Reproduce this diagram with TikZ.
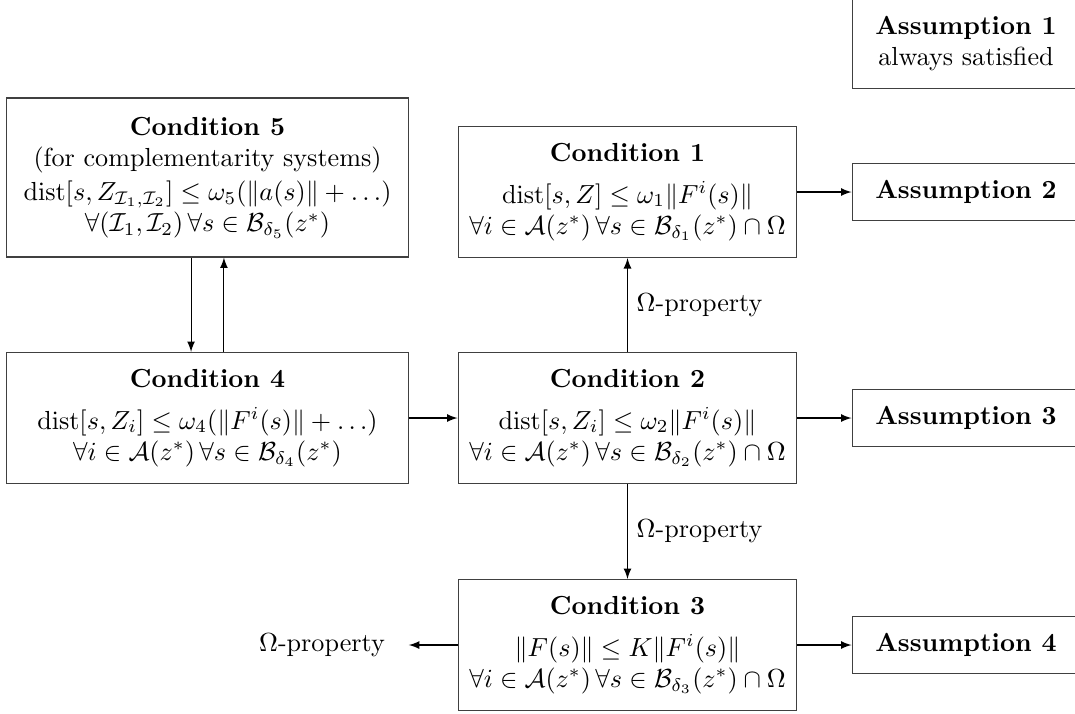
\documentclass[tikz,border=0pt]{standalone}
\usepackage{amsmath, amsfonts, amssymb}
\usepackage{tikz}

\tikzset{
  cond/.style={draw=black!75, align=center, minimum width=129.8pt, minimum height=50.2pt, inner sep=0pt},
  widecond/.style={cond, minimum width=153.6pt},
  assum/.style={draw=black!75, align=center, minimum width=87.3pt, minimum height=21.8pt, inner sep=0pt},
}

\begin{document}
\begin{tikzpicture}[x=0.383pt, y=-0.383pt, >=latex]
        % Coordinates
        \coordinate (P1) at (627.5, 192.0);
        \coordinate (P2) at (627.5, 418.0);
        \coordinate (P3) at (627.5, 645.0);
        \coordinate (P4) at (207.5, 418.0);
        \coordinate (P5) at (207.5, 177.5);
        \coordinate (Q1) at (966.0, 43.5);
        \coordinate (Q2) at (966.0, 192.0);
        \coordinate (Q3) at (966.0, 418.0);
        \coordinate (Q4) at (966.0, 645.0);
        \coordinate (OM) at (322.0, 645.0);
        \useasboundingbox (0,0) rectangle (1075,713);

        % Drawing
        \node[widecond, minimum height=60.9pt] (c5) at (P5) {\textbf{Condition 5}\\ (for complementarity systems)\\[1pt]
          $\operatorname{dist}[s,Z_{\mathcal{I}_1,\mathcal{I}_2}]\le\omega_5(\|a(s)\|+\ldots)$\\
          $\forall(\mathcal{I}_1,\mathcal{I}_2)\,\forall s\in\mathcal{B}_{\delta_5}(z^*)$};
        \node[widecond] (c4) at (P4) {\textbf{Condition 4}\\[4pt]
          $\operatorname{dist}[s,Z_i]\le\omega_4(\|F^i(s)\|+\ldots)$\\
          $\forall i\in\mathcal{A}(z^*)\,\forall s\in\mathcal{B}_{\delta_4}(z^*)$};
        \node[cond] (c1) at (P1) {\textbf{Condition 1}\\[4pt]
          $\operatorname{dist}[s,Z]\le\omega_1\|F^i(s)\|$\\
          $\forall i\in\mathcal{A}(z^*)\,\forall s\in\mathcal{B}_{\delta_1}(z^*)\cap\Omega$};
        \node[cond] (c2) at (P2) {\textbf{Condition 2}\\[4pt]
          $\operatorname{dist}[s,Z_i]\le\omega_2\|F^i(s)\|$\\
          $\forall i\in\mathcal{A}(z^*)\,\forall s\in\mathcal{B}_{\delta_2}(z^*)\cap\Omega$};
        \node[cond] (c3) at (P3) {\textbf{Condition 3}\\[4pt]
          $\|F(s)\|\le K\|F^i(s)\|$\\
          $\forall i\in\mathcal{A}(z^*)\,\forall s\in\mathcal{B}_{\delta_3}(z^*)\cap\Omega$};
        \node[assum, minimum height=34.1pt] (a1) at (Q1) {\textbf{Assumption 1}\\ always satisfied};
        \node[assum] (a2) at (Q2) {\textbf{Assumption 2}};
        \node[assum] (a3) at (Q3) {\textbf{Assumption 3}};
        \node[assum] (a4) at (Q4) {\textbf{Assumption 4}};
        \node[inner xsep=9pt] (om) at (OM) {$\Omega$-property};

        \draw[->] ([xshift=-6.3pt]c5.south) -- ([xshift=-6.3pt]c4.north);
        \draw[<-] ([xshift=6.3pt]c5.south) -- ([xshift=6.3pt]c4.north);
        \draw[->] (c4.east) -- (c2.west);
        \draw[->] (c2.north) -- node[right] {$\Omega$-property} (c1.south);
        \draw[->] (c2.south) -- node[right] {$\Omega$-property} (c3.north);
        \draw[->] (c1.east) -- (a2.west);
        \draw[->] (c2.east) -- (a3.west);
        \draw[->] (c3.east) -- (a4.west);
        \draw[->] (c3.west) -- (om.east);
\end{tikzpicture}
\end{document}
